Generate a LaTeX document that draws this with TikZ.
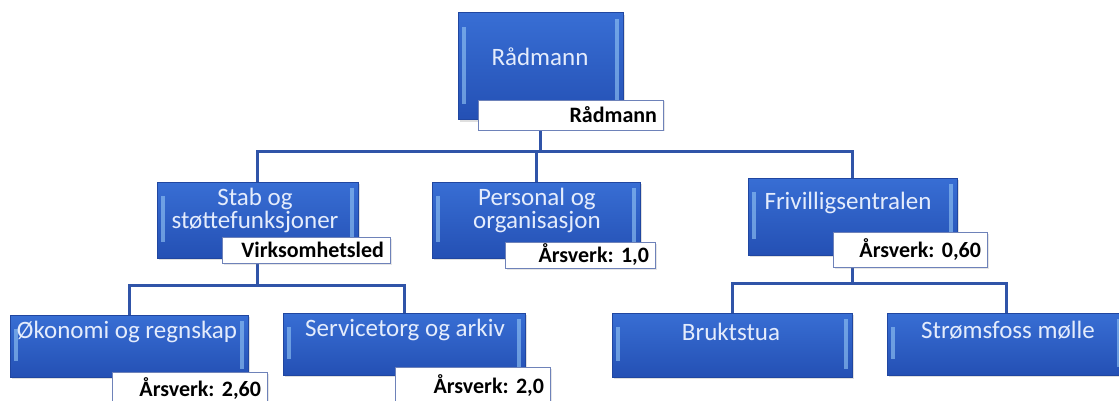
\documentclass[tikz,border=0pt]{standalone}
\usepackage{fontspec}
\setmainfont{Carlito}
\frenchspacing
\usetikzlibrary{calc,shadows,backgrounds}
\definecolor{boxtop}{RGB}{56,110,212}
\definecolor{boxbot}{RGB}{36,80,180}
\definecolor{boxedge}{RGB}{32,70,160}
\definecolor{bevel}{RGB}{150,200,245}
\definecolor{boxtxt}{RGB}{228,236,252}
\definecolor{labedge}{RGB}{110,130,185}
\definecolor{conncol}{RGB}{48,84,168}
\tikzset{
  orgbox/.style={draw=boxedge, line width=1pt, top color=boxtop, bottom color=boxbot,
    inner sep=0pt, rectangle,
    drop shadow={shadow xshift=2pt, shadow yshift=-2pt, opacity=0.25},
    path picture={
      \fill[bevel, opacity=0.6] ($(path picture bounding box.north west)+(4,14)$) rectangle ($(path picture bounding box.south west)+(8,-16)$);
      \fill[bevel, opacity=0.6] ($(path picture bounding box.north east)+(-8,6)$) rectangle ($(path picture bounding box.south east)+(-4,-8)$);
    }},
  boxtext/.style={text=boxtxt, font=\fontsize{25}{23}\selectfont, align=center, inner sep=0pt},
  lab/.style={draw=labedge, fill=white, line width=0.9pt, inner sep=0pt, inner xsep=6pt,
    align=right, font=\bfseries\fontsize{22}{24}\selectfont,
    drop shadow={shadow xshift=1.5pt, shadow yshift=-1.5pt, opacity=0.2}},
  conn/.style={draw=conncol, line width=3pt}
}
\begin{document}
\begin{tikzpicture}[x=1pt,y=-1pt]
\useasboundingbox (0,0) rectangle (1119,401);
% boxes
\node[orgbox, minimum width=165pt, minimum height=107pt] (rad) at (540.5,66.5) {};
\node[orgbox, minimum width=201pt, minimum height=76pt] (stab) at (257.5,220) {};
\node[orgbox, minimum width=208pt, minimum height=76pt] (pers) at (536,220) {};
\node[orgbox, minimum width=209pt, minimum height=77pt] (friv) at (852.5,216.5) {};
\node[orgbox, minimum width=238pt, minimum height=62pt] (oko) at (129,346) {};
\node[orgbox, minimum width=242pt, minimum height=62pt] (serv) at (404,344) {};
\node[orgbox, minimum width=240pt, minimum height=64pt] (brukt) at (732,345) {};
\node[orgbox, minimum width=238pt, minimum height=62pt] (strom) at (1006,344) {};
% box texts
\node[boxtext] (radt) at (540,57) {Rådmann};
\node[boxtext] (stabt) at (255,210) {Stab og\\støttefunksjoner};
\node[boxtext] (perst) at (537,210) {Personal og\\organisasjon};
\node[boxtext] (frivt) at (848,203) {Frivilligsentralen};
\node[boxtext] (okot) at (127,332) {Økonomi og regnskap};
\node[boxtext] (servt) at (405,330) {Servicetorg og arkiv};
\node[boxtext] (bruktt) at (731,332) {Bruktstua};
\node[boxtext] (stromt) at (1008,330) {Strømsfoss mølle};
% labels
\node[lab, text width=173pt, minimum height=30pt] (radlab) at (570.5,115) {Rådmann};
\node[lab, text width=156pt, minimum height=26pt] (stablab) at (306,250) {Virksomhetsled};
\node[lab, text width=138pt, minimum height=26pt] (perslab) at (580,255) {Årsverk: 1,0};
\node[lab, text width=142pt, minimum height=35pt] (frivlab) at (910,249.5) {Årsverk: 0,60};
\node[lab, text width=143pt, minimum height=33pt] (okolab) at (189.5,388.5) {Årsverk: 2,60};
\node[lab, text width=143pt, minimum height=38pt] (servlab) at (472.5,386) {Årsverk: 2,0};
% connectors
\begin{scope}[on background layer]
\coordinate (jr) at ($(rad.south)+(0,31)$);
\coordinate (js) at ($(stab.south)+(0,27)$);
\coordinate (jf) at ($(friv.south)+(0,28)$);
\draw[conn] (rad.south) -- (jr);
\draw[conn] (jr) -| (stab.north);
\draw[conn] (jr) -| (pers.north);
\draw[conn] (jr) -| (friv.north);
\draw[conn] (stab.south) -- (js);
\draw[conn] (js) -| (oko.north);
\draw[conn] (js) -| (serv.north);
\draw[conn] (friv.south) -- (jf);
\draw[conn] (jf) -| (brukt.north);
\draw[conn] (jf) -| (strom.north);
\end{scope}
\end{tikzpicture}
\end{document}
